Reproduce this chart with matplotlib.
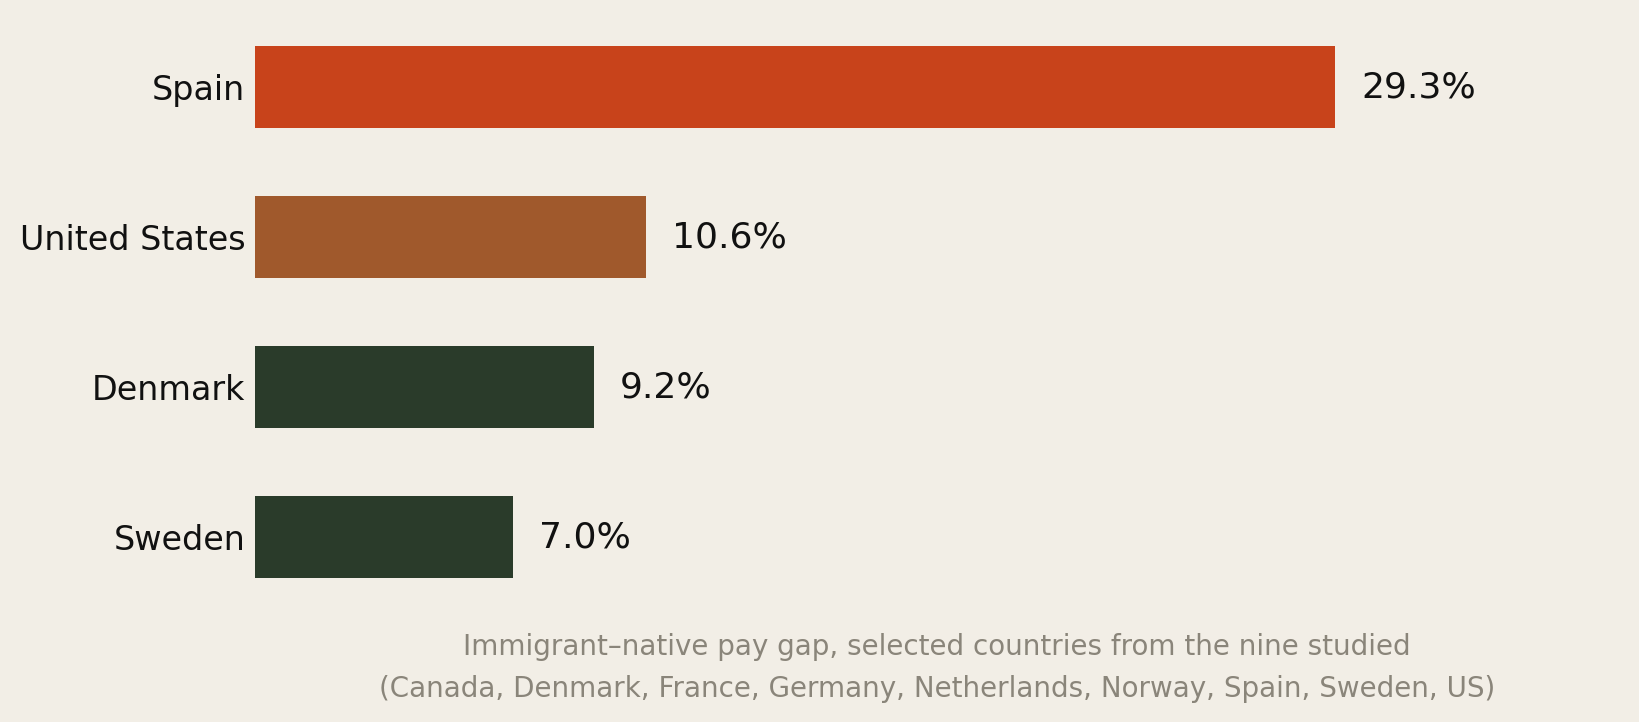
import matplotlib
matplotlib.use("Agg")
import matplotlib.pyplot as plt

countries = ["Spain", "United States", "Denmark", "Sweden"]
pay_gap = [29.3, 10.6, 9.2, 7.0]
bar_colors = ["#C8431B", "#A0592C", "#2A3B2A", "#2A3B2A"]
caption = ("Immigrant\u2013native pay gap, selected countries from the nine studied\n"
           "(Canada, Denmark, France, Germany, Netherlands, Norway, Spain, Sweden, US)")

bg = "#F2EEE6"
fig = plt.figure(figsize=(16.39, 7.22), dpi=100, facecolor=bg)
ax = fig.add_axes([255 / 1639, 110 / 722, 1364 / 1639, 600 / 722])
ax.set_facecolor(bg)

ypos = list(range(len(countries)))
ax.barh(ypos, pay_gap, height=0.55, color=bar_colors)
for y, v in zip(ypos, pay_gap):
    ax.text(v + 0.7, y, f"{v:.1f}%", va="center", ha="left",
            fontsize=26, color="#111111")

ax.set_xlim(0, 37)
ax.set_ylim(3.5, -0.5)
ax.set_yticks(ypos)
ax.set_yticklabels(countries, fontsize=24, color="#111111")
ax.tick_params(axis="y", length=0, pad=7)
ax.set_xticks([])
for s in ax.spines.values():
    s.set_visible(False)

fig.text(937 / 1639, (722 - 668) / 722, caption, ha="center", va="center",
         fontsize=20, color="#8A857A", linespacing=1.6)

fig.savefig("out.png", dpi=100, facecolor=bg)
